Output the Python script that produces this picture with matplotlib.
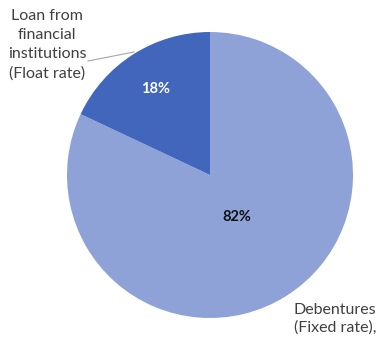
import numpy as np
import matplotlib.pyplot as plt

categories = ["Debentures\n(Fixed rate),", "Loan from\nfinancial\ninstitutions\n(Float rate)"]
values = [82, 18]
pct_labels = ["82%", "18%"]
colors = ["#8EA2D8", "#4166BC"]
pct_colors = ["#111111", "white"]
pct_dist = [0.35, 0.71]

fig = plt.figure(figsize=(3.78, 3.44), dpi=100)
ax = fig.add_axes([0, 0, 1, 1])
R = 143.0
cx, cy = 210.0, 175.0

wedges, _ = ax.pie(values, colors=colors, startangle=90, counterclock=False,
                   radius=1.0, center=(0, 0), frame=True,
                   wedgeprops=dict(linewidth=0))
ax.set_xlim(-cx / R, (378 - cx) / R)
ax.set_ylim(-(344 - cy) / R, cy / R)
ax.set_aspect("auto")
ax.axis("off")

font = "Lato"
for w, lab, col, d in zip(wedges, pct_labels, pct_colors, pct_dist):
    ang = np.deg2rad((w.theta1 + w.theta2) / 2)
    ax.text(d * np.cos(ang), d * np.sin(ang), lab, ha="center", va="center",
            color=col, fontsize=10.5, fontweight="bold", family=font)

def px(x, y):
    return ((x - cx) / R, (cy - y) / R)

ax.text(*px(47, 45), categories[1], ha="center", va="center", fontsize=11.5,
        color="#404040", family=font, linespacing=1.45)
ax.text(*px(335, 319), categories[0], ha="center", va="center", fontsize=11.5,
        color="#404040", family=font, linespacing=1.3)
x0, y0 = px(88, 61)
x1, y1 = px(134, 52)
ax.plot([x0, x1], [y0, y1], color="#A6A6A6", lw=0.8)

fig.savefig("out.png", dpi=100)
